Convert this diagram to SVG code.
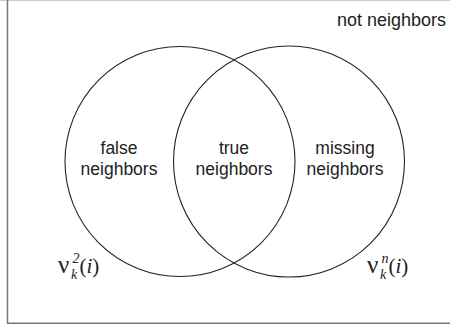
<svg xmlns="http://www.w3.org/2000/svg" width="450" height="327" viewBox="0 0 450 327">
<style>
.lbl{font-family:"Liberation Sans",Arial,sans-serif;font-size:17.5px;fill:#222;text-anchor:middle}
.set{fill:none;stroke:#222;stroke-width:1.1}
.m{font-family:"Liberation Serif","Times New Roman",serif;fill:#222}
.nu{font-size:25px}
.sc{font-size:14px;font-style:italic}
.p{font-size:21px}
</style>
<rect width="450" height="327" fill="#fff"/>
<g id="frame">
<line x1="0" y1="0.5" x2="450" y2="0.5" stroke="#ccc" stroke-width="1"/>
<line x1="7.5" y1="0" x2="7.5" y2="323.5" stroke="#777" stroke-width="1.5"/>
<line x1="7" y1="323.3" x2="450" y2="323.3" stroke="#777" stroke-width="1.5"/>
</g>
<g id="left-set">
<circle class="set" cx="180" cy="161.5" r="115"/>
<text class="m"><tspan class="nu" x="58" y="273">ν</tspan><tspan class="sc" x="72.5" y="263">2</tspan><tspan class="sc" x="71" y="279">k</tspan><tspan class="p" x="79.5" y="273">(</tspan><tspan class="p" font-style="italic">i</tspan><tspan class="p">)</tspan></text>
</g>
<g id="right-set">
<circle class="set" cx="289" cy="161.5" r="115.5"/>
<text class="m"><tspan class="nu" x="367" y="273">ν</tspan><tspan class="sc" x="381.5" y="263">n</tspan><tspan class="sc" x="380" y="279">k</tspan><tspan class="p" x="388.5" y="273">(</tspan><tspan class="p" font-style="italic">i</tspan><tspan class="p">)</tspan></text>
</g>
<g id="false-neighbors">
<text class="lbl" x="119" y="154">false</text>
<text class="lbl" x="119" y="175">neighbors</text>
</g>
<g id="true-neighbors">
<text class="lbl" x="234" y="154">true</text>
<text class="lbl" x="234" y="175">neighbors</text>
</g>
<g id="missing-neighbors">
<text class="lbl" x="345" y="154">missing</text>
<text class="lbl" x="345" y="175">neighbors</text>
</g>
<g id="not-neighbors">
<text class="lbl" x="391.5" y="26" style="font-size:18px">not neighbors</text>
</g>
<g id="connectors"></g>
</svg>
